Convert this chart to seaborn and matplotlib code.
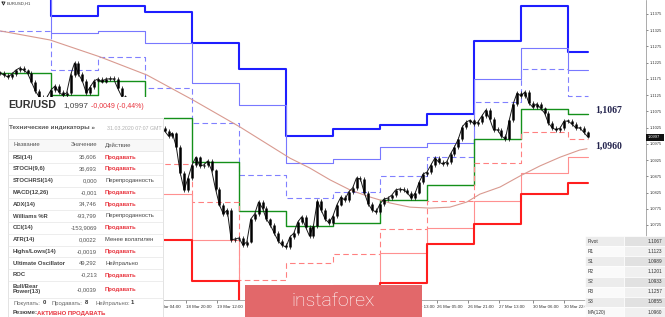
import matplotlib
matplotlib.use('Agg')
import matplotlib.pyplot as plt
import seaborn as sns
import numpy as np
import pandas as pd
from matplotlib.patches import Rectangle

# ---------------- data ----------------
symbol = 'EUR/USD'
timeframe_label = 'EURUSD,H1'
last_price_text = '1,0997'
price_box_text = '1.0997'
change_text = '-0,0049 (-0,44%)'

# two-hour closes (trading hours counted from 13 Mar 00:00); first bar at hour -2
first_bar_hour = -2
bar_hours = 2
closes = [
    1.1193, 1.1187, 1.1181, 1.1190, 1.1202, 1.1209, 1.1202, 1.1193, 1.1166, 1.1138,
    1.1119, 1.1113, 1.1119, 1.1141, 1.1153, 1.1135, 1.1125, 1.1132, 1.1187, 1.1224,
    1.1190, 1.1169, 1.1132, 1.1150, 1.1169, 1.1175, 1.1166, 1.1175, 1.1175, 1.1175,
    1.1147, 1.1122, 1.1110, 1.1098, 1.1085, 1.1073, 1.1064, 1.1055, 1.1048, 1.1042,
    1.1033, 1.1024, 1.1015, 1.0999, 1.1008, 1.0965, 1.0885, 1.0833, 1.0870, 1.0910,
    1.0934, 1.0907, 1.0910, 1.0922, 1.0894, 1.0836, 1.0787, 1.0759, 1.0771, 1.0679,
    1.0682, 1.0685, 1.0663, 1.0673, 1.0743, 1.0759, 1.0796, 1.0777, 1.0743, 1.0725,
    1.0700, 1.0676, 1.0663, 1.0657, 1.0688, 1.0700, 1.0734, 1.0750, 1.0719, 1.0691,
    1.0722, 1.0799, 1.0771, 1.0743, 1.0731, 1.0753, 1.0787, 1.0811, 1.0802, 1.0827,
    1.0839, 1.0870, 1.0867, 1.0824, 1.0790, 1.0771, 1.0765, 1.0790, 1.0805, 1.0808,
    1.0817, 1.0833, 1.0836, 1.0833, 1.0824, 1.0808, 1.0824, 1.0857, 1.0882, 1.0888,
    1.0910, 1.0931, 1.0919, 1.0913, 1.0919, 1.0944, 1.0965, 1.0990, 1.1027, 1.1042,
    1.1048, 1.1036, 1.1042, 1.1061, 1.1079, 1.1052, 1.1018, 1.1018, 1.0999, 1.0990,
    1.1048, 1.1098, 1.1132, 1.1122, 1.1135, 1.1101, 1.1088, 1.1098, 1.1085, 1.1070,
    1.1039, 1.1024, 1.1018, 1.1024, 1.1045, 1.1045, 1.1036, 1.1024, 1.1024, 1.1011,
    1.0997,
]

# daily pivot levels: 13,16,17,18,19,20,23,24,25,26,27,30,31 Mar
day_start_hours = [0, 24, 48, 72, 96, 120, 144, 168, 192, 216, 240, 264, 288]
last_hour = 298
r3 = [1.1600, 1.1369, 1.1400, 1.1381, 1.1286, 1.1206, 1.0999, 1.1021, 1.1033, 1.1067, 1.1292, 1.1400, 1.1257]
r2 = [1.1470, 1.1316, 1.1323, 1.1286, 1.1162, 1.1095, 1.0916, 1.0928, 1.0965, 1.0978, 1.1175, 1.1270, 1.1201]
r1 = [1.1323, 1.1203, 1.1243, 1.1147, 1.1039, 1.0879, 1.0808, 1.0827, 1.0876, 1.0934, 1.1104, 1.1206, 1.1123]
pivot = [1.1193, 1.1125, 1.1169, 1.1055, 1.0919, 1.0768, 1.0722, 1.0731, 1.0802, 1.0848, 1.0990, 1.1082, 1.1067]
s1 = [1.1045, 1.1011, 1.1089, 1.0913, 1.0796, 1.0556, 1.0608, 1.0636, 1.0713, 1.0799, 1.0916, 1.1011, 1.0989]
s2 = [1.0916, 1.0934, 1.1015, 1.0820, 1.0679, 1.0445, 1.0522, 1.0540, 1.0639, 1.0716, 1.0799, 1.0885, 1.0933]
s3 = [1.0768, 1.0820, 1.0934, 1.0679, 1.0552, 1.0232, 1.0408, 1.0445, 1.0546, 1.0666, 1.0728, 1.0820, 1.0855]

# MA(120)
ma_hours = [-2, 23.5, 49, 73, 96.5, 120.5, 146, 156, 166.5, 176.7, 187, 197, 207.3,
            217.5, 227.7, 236.4, 243, 253.3, 263.5, 273.7, 284, 294, 297.7]
ma_values = [1.1323, 1.1295, 1.1243, 1.1187, 1.1110, 1.1027, 1.0931, 1.0901, 1.0864,
             1.0833, 1.0811, 1.0793, 1.0780, 1.0777, 1.0780, 1.0796, 1.0820, 1.0842,
             1.0876, 1.0907, 1.0934, 1.0956, 1.0960]

# visible time labels (others are hidden under the panel / watermark)
time_tick_hours = [77, 93, 109, 207, 221, 237, 253, 270, 286]
time_tick_labels = ['18 Mar 04:00', '18 Mar 20:00', '19 Mar 12:00', '25 Mar 13:00',
                    '26 Mar 05:00', '26 Mar 21:00', '27 Mar 13:00', '30 Mar 06:00',
                    '30 Mar 22:00']

price_ticks = [1.0725, 1.0775, 1.0825, 1.0875, 1.0925, 1.0975, 1.1025, 1.1075,
               1.1125, 1.1175, 1.1225, 1.1275, 1.1325, 1.1375]

pivot_names = ['Pivot', 'R1', 'S1', 'R2', 'S2', 'R3', 'S3', 'MA(120)']
pivot_values = ['1.1067', '1.1123', '1.0989', '1.1201', '1.0933', '1.1257', '1.0855', '1.0960']

ind_names = ['RSI(14)', 'STOCH(9,6)', 'STOCHRSI(14)', 'MACD(12,26)', 'ADX(14)', 'Williams %R',
             'CCI(14)', 'ATR(14)', 'Highs/Lows(14)', 'Ultimate Oscillator', 'ROC',
             'Bull/Bear\nPower(13)']
ind_values = ['35,606', '36,693', '0,000', '-0,001', '34,746', '-93,799', '-153,9069',
              '0,0022', '-0,0019', '49,292', '-0,213', '-0,0039']
ind_actions = ['Продавать', 'Продавать', 'Перепроданность', 'Продавать', 'Продавать',
               'Перепроданность', 'Продавать', 'Менее волатилен', 'Продавать', 'Нейтрально',
               'Продавать', 'Продавать']
summary_counts = [('Покупать:', '0'), ('Продавать:', '8'), ('Нейтрально:', '1')]
summary_label = 'Резюме:'
summary_value = 'АКТИВНО ПРОДАВАТЬ'

# ---------------- layout ----------------
sns.set_theme(style='white')
plt.rcParams['font.family'] = ['Liberation Sans', 'DejaVu Sans']

W, H = 665, 317
fig = plt.figure(figsize=(W / 100, H / 100), dpi=100)
fig.patch.set_facecolor('white')

PX_PER_HOUR = 47 / 24
HOUR0_PX = 4
AXIS_R_PX, AXIS_B_PX = 646, 300
PRICE_PER_PX = 0.005 / 16.23
PRICE_TOP = 1.1375 + 14 * PRICE_PER_PX

ax = fig.add_axes([0, 1 - AXIS_B_PX / H, AXIS_R_PX / W, AXIS_B_PX / H])
ax.set_facecolor('white')
xmin = (0 - HOUR0_PX) / PX_PER_HOUR
xmax = (AXIS_R_PX - HOUR0_PX) / PX_PER_HOUR
ax.set_xlim(xmin, xmax)
ax.set_ylim(PRICE_TOP - AXIS_B_PX * PRICE_PER_PX, PRICE_TOP)

RED = '#e8323c'
level_styles = [
    (r3, '#1e1eff', 1.5, '-'),
    (r2, '#7878ff', 0.8, '-'),
    (r1, '#8080ff', 0.8, (0, (5, 3))),
    (pivot, '#14901a', 1.0, '-'),
    (s1, '#ff8080', 0.8, (0, (5, 3))),
    (s2, '#ff9090', 0.8, '-'),
    (s3, '#ff1e1e', 1.5, '-'),
]
step_x = [xmin] + day_start_hours[1:] + [last_hour]
for vals, col, lw, ls in level_styles:
    df = pd.DataFrame({'h': step_x, 'p': list(vals) + [vals[-1]]})
    sns.lineplot(data=df, x='h', y='p', ax=ax, color=col, linewidth=lw,
                 linestyle=ls, drawstyle='steps-post', zorder=2)

ma_df = pd.DataFrame({'h': ma_hours, 'p': ma_values})
sns.lineplot(data=ma_df, x='h', y='p', ax=ax, color='#d99a90', linewidth=0.8, zorder=2)

bars_h = first_bar_hour + bar_hours * np.arange(len(closes))
opens = np.array([closes[0]] + closes[:-1])
cl = np.array(closes)
lo = np.minimum(opens, cl)
hi = np.maximum(opens, cl)
hi = np.maximum(hi, lo + 0.00025)
price_df = pd.DataFrame({'h': bars_h, 'p': cl})
sns.lineplot(data=price_df, x='h', y='p', ax=ax, color='#1a1a1a', linewidth=0.7, zorder=4)
ax.vlines(bars_h, lo - 0.0005, hi + 0.0005, colors='#222222', linewidth=0.6, zorder=4)
ax.vlines(bars_h, lo, hi, colors='black', linewidth=1.8, zorder=5)

ax.set_xlabel('')
ax.set_ylabel('')
ax.grid(False)
for side in ['top', 'left']:
    ax.spines[side].set_visible(False)
for side in ['right', 'bottom']:
    ax.spines[side].set_color('#8a8a8a')
    ax.spines[side].set_linewidth(0.5)

ax.yaxis.tick_right()
ax.set_yticks(price_ticks)
ax.set_yticklabels([f'{p:.4f}' for p in price_ticks])
ax.tick_params(axis='y', right=True, left=False, labelsize=2.9, colors='#333333',
               length=1.5, width=0.4, pad=1)
ax.set_xticks(time_tick_hours)
ax.set_xticklabels(time_tick_labels, ha='left')
ax.tick_params(axis='x', bottom=True, labelsize=3.2, colors='#333333',
               length=2, width=0.4, pad=1.5)

# ---------------- overlay (pixel coordinates) ----------------
ov = fig.add_axes([0, 0, 1, 1], zorder=10)
ov.set_xlim(0, W)
ov.set_ylim(H, 0)
ov.axis('off')
ov.patch.set_alpha(0)

# symbol label top-left
ov.plot([2, 5, 3.5, 2], [2, 2, 5, 2], color='#222', lw=0.6)
ov.text(7, 3.8, timeframe_label, fontsize=3, color='#333', va='center')

# right labels of pivot and MA
serif = ['Liberation Serif', 'DejaVu Serif']
ov.text(595, 110.5, pivot_values[0].replace('.', ','), family=serif, fontweight='bold',
        fontsize=7, color='#23234d', va='center')
ov.text(595, 146.5, pivot_values[7].replace('.', ','), family=serif, fontweight='bold',
        fontsize=7, color='#23234d', va='center')

# current price box
ov.add_patch(Rectangle((646, 133.5), 17.5, 7.5, fc='#111111', ec='none'))
ov.text(647.5, 137.4, price_box_text, fontsize=2.9, color='white', va='center')

# left info panel
ov.add_patch(Rectangle((0, 97), 163.5, 220, fc='white', ec='none'))
ov.text(8, 105.5, symbol, fontsize=7.7, fontweight='bold', color='#333333', va='center')
ov.text(63, 106, last_price_text, fontsize=5.9, color='#444444', va='center')
ov.text(91, 106, change_text, fontsize=5, color=RED, va='center')
ov.add_patch(Rectangle((8, 118), 155, 199, fc='white', ec='#dedede', lw=0.6))
ov.text(9, 128, 'Технические индикаторы »', fontsize=4.6, fontweight='bold',
        color='#555555', va='center')
ov.text(162, 128, '31.03.2020 07:07 GMT', fontsize=3.8, color='#b0b0b0', va='center', ha='right')
ov.add_patch(Rectangle((8, 139), 155, 12, fc='#f8f8f8', ec='#e2e2e2', lw=0.5))
ov.text(13, 145, 'Название', fontsize=4.3, color='#555555', va='center')
ov.text(97, 145, 'Значение', fontsize=4.3, color='#555555', va='center', ha='right')
ov.text(105, 145, 'Действие', fontsize=4.3, color='#555555', va='center')

row_y0, row_h = 157, 11.8
for i, (nm, val, act) in enumerate(zip(ind_names, ind_values, ind_actions)):
    yc = row_y0 + i * row_h + (2.5 if '\n' in nm else 0)
    ov.text(13, yc, nm, fontsize=4.2, fontweight='bold', color='#444444', va='center',
            linespacing=1.0)
    ov.text(97, yc, val, fontsize=4.2, color='#555555', va='center', ha='right')
    is_sell = act == 'Продавать'
    ov.text(105, yc, act, fontsize=4.2, color=RED if is_sell else '#444444',
            fontweight='bold' if is_sell else 'normal', va='center')
    ysep = row_y0 + i * row_h + row_h / 2 + (5 if '\n' in nm else 0)
    ov.plot([8, 163], [ysep, ysep], color='#e6e6e6', lw=0.5)

sx = [13, 52, 95]
num_x = [43, 85, 131]
for (lab, num), x, nx in zip(summary_counts, sx, num_x):
    ov.text(x, 303, lab, fontsize=4.2, color='#666666', va='center')
    ov.text(nx, 303, num, fontsize=4.2, fontweight='bold', color='#333', va='center')
ov.text(13, 313, summary_label, fontsize=4.3, fontweight='bold', color='#444444', va='center')
ov.text(37, 313, summary_value, fontsize=4.3, fontweight='bold', color=RED, va='center')

# watermark box
ov.add_patch(Rectangle((245, 285), 177, 32, fc='#e2686a', ec='none'))
ov.text(333, 301, 'instaforex', fontsize=14, family=['Roboto', 'DejaVu Sans'],
        fontweight='light', color='white', va='center', ha='center')

# pivot table
pt_y0, pt_rh = 236, 10.15
for i, (nm, val) in enumerate(zip(pivot_names, pivot_values)):
    y = pt_y0 + i * pt_rh
    shade = (i % 2 == 0)
    ov.add_patch(Rectangle((585, y), 39, pt_rh, fc='#ececec' if shade else '#fafafa',
                           ec='white', lw=0.5))
    ov.add_patch(Rectangle((624, y), 41, pt_rh, fc='#e1e1e1' if shade else '#f0f0f0',
                           ec='white', lw=0.5))
    ov.text(588, y + pt_rh / 2, nm, fontsize=3.4, color='#333333', va='center')
    ov.text(662, y + pt_rh / 2, val, fontsize=3.4, color='#333333', va='center', ha='right')

fig.savefig('out.png', dpi=100, facecolor='white')
